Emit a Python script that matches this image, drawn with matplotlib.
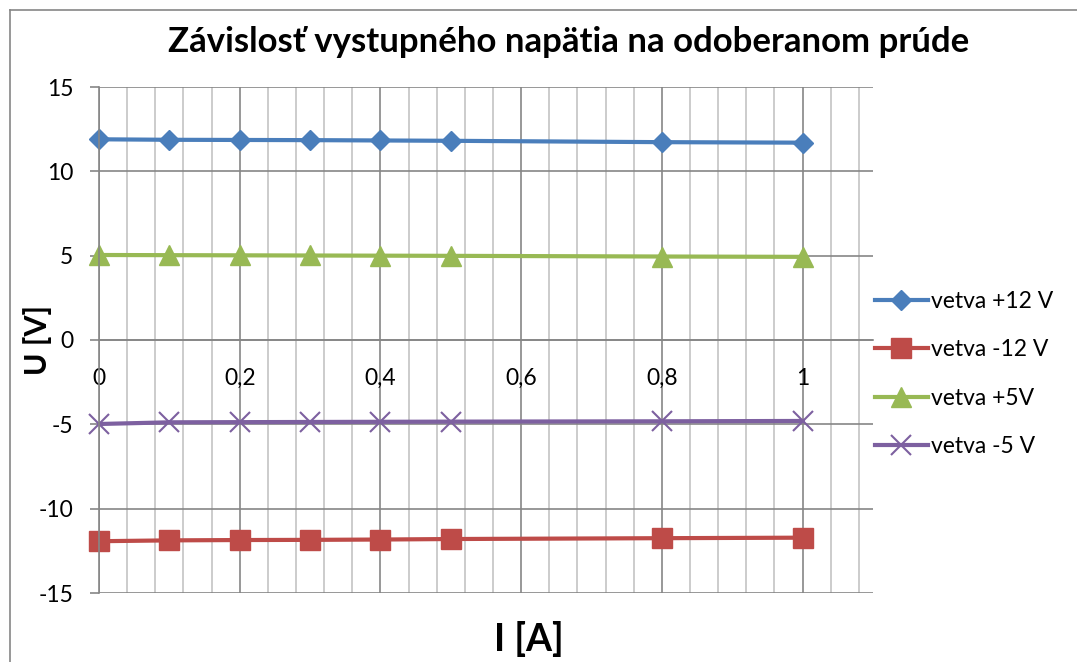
import matplotlib
matplotlib.use("Agg")
import matplotlib.pyplot as plt
from matplotlib.ticker import MultipleLocator, FuncFormatter
from matplotlib.lines import Line2D

plt.rcParams['font.family'] = ['Lato', 'DejaVu Sans']
plt.rcParams['axes.unicode_minus'] = False

current = [0, 0.1, 0.2, 0.3, 0.4, 0.5, 0.8, 1.0]
v_p12 = [11.90, 11.87, 11.86, 11.85, 11.83, 11.81, 11.73, 11.70]
v_m12 = [-11.93, -11.88, -11.86, -11.85, -11.83, -11.80, -11.75, -11.72]
v_p5 = [5.04, 5.03, 5.02, 5.01, 5.00, 4.99, 4.95, 4.93]
v_m5 = [-4.98, -4.88, -4.87, -4.86, -4.85, -4.84, -4.82, -4.80]
labels = ["vetva +12 V", "vetva -12 V", "vetva +5V", "vetva -5 V"]
title = "Závislosť vystupného napätia na odoberanom prúde"

W, H = 1077, 662
fig = plt.figure(figsize=(W / 100, H / 100), dpi=100)
ax = fig.add_axes([99 / W, 1 - 593 / H, (873 - 99) / W, (593 - 87) / H])

ax.set_xlim(0, 1.1)
ax.set_ylim(-15, 15)

ax.xaxis.set_major_locator(MultipleLocator(0.2))
ax.xaxis.set_minor_locator(MultipleLocator(0.04))
ax.yaxis.set_major_locator(MultipleLocator(5))
ax.grid(which='major', axis='both', color='#868686', lw=1.2)
ax.grid(which='minor', axis='x', color='#c4c4c4', lw=1.2)
ax.set_axisbelow(True)

for s in ['top', 'right']:
    ax.spines[s].set_visible(False)
ax.spines['bottom'].set_position(('data', 0))
ax.spines['bottom'].set_color('#868686')
ax.spines['left'].set_color('#868686')
ax.spines['bottom'].set_linewidth(1.2)
ax.spines['left'].set_linewidth(1.2)

def fmt_x(v, pos):
    if v > 1.0001:
        return ""
    s = ("%.1f" % v).rstrip('0').rstrip('.')
    return s.replace('.', ',')

ax.xaxis.set_major_formatter(FuncFormatter(fmt_x))
ax.set_xticks([0, 0.2, 0.4, 0.6, 0.8, 1.0])
ax.tick_params(axis='x', which='both', length=0, pad=20, labelsize=16.5)
ax.tick_params(axis='y', length=6.5, width=1.2, color='#868686', pad=12, labelsize=16.5)

ax.plot(current, v_p12, color='#4a7ebb', lw=3, marker='D', ms=10.5, label=labels[0], clip_on=False)
ax.plot(current, v_m12, color='#be4b48', lw=3, marker='s', ms=14, label=labels[1], clip_on=False)
ax.plot(current, v_p5, color='#98b954', lw=3, marker='^', ms=15, label=labels[2], clip_on=False)
ax.plot(current, v_m5, color='#7d60a0', lw=3, marker='x', ms=14, mew=1.5, label=labels[3], clip_on=False)

fig.text(569 / W, 1 - 42 / H, title, ha='center', va='center', fontsize=25, fontweight='bold')
fig.text(38 / W, 1 - 340 / H, "U [V]", rotation=90, ha='center', va='center', fontsize=22, fontweight='bold')
fig.text(529 / W, 1 - 639 / H, "I [A]", ha='center', va='center', fontsize=27, fontweight='bold')

leg = ax.legend(loc='center left', bbox_to_anchor=(875 / W, 1 - 374 / H), bbox_transform=fig.transFigure,
                frameon=False, fontsize=16.5, handlelength=2.3, handletextpad=0.15, labelspacing=1.2,
                borderpad=0, borderaxespad=0)

# chart border (left and top)
fig.add_artist(Line2D([10 / W, 10 / W], [0, 1 - 10 / H], transform=fig.transFigure, color='#868686', lw=1.2))
fig.add_artist(Line2D([10 / W, 1], [1 - 10 / H, 1 - 10 / H], transform=fig.transFigure, color='#868686', lw=1.2))

fig.savefig("out.png", dpi=100)
